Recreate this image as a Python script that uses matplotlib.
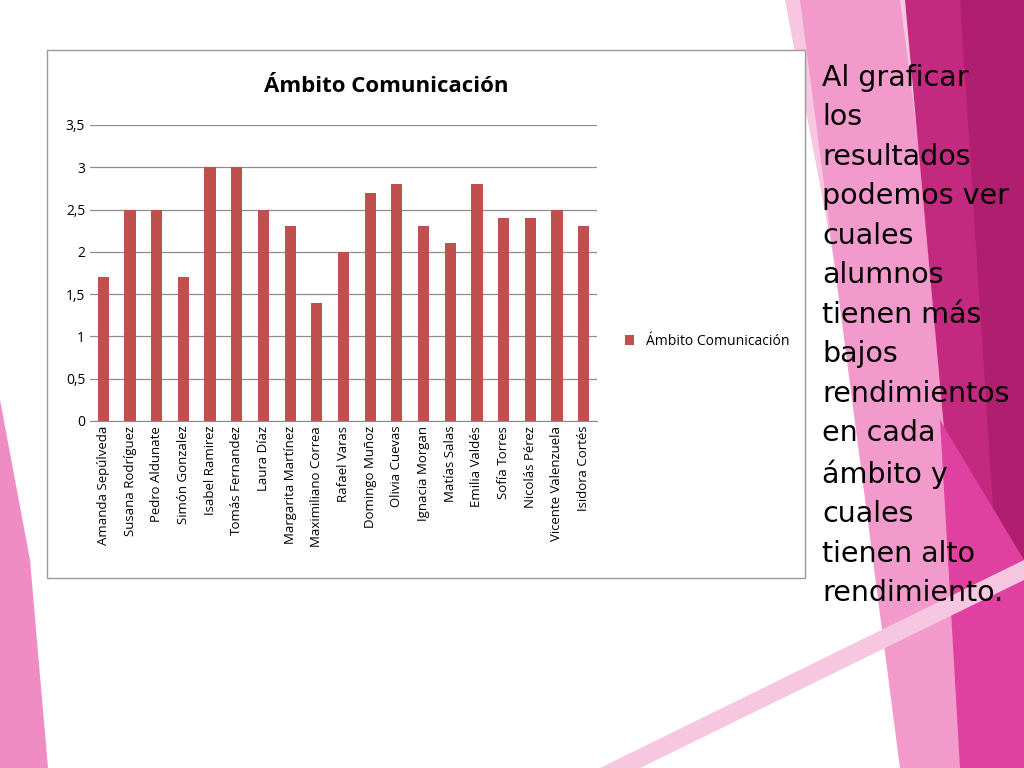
import matplotlib.pyplot as plt
from matplotlib.patches import Polygon, Rectangle

alumnos = ["Amanda Sepúlveda", "Susana Rodríguez", "Pedro Aldunate", "Simón Gonzalez",
           "Isabel Ramirez", "Tomás Fernandez", "Laura Díaz", "Margarita Martínez",
           "Maximiliano Correa", "Rafael Varas", "Domingo Muñoz", "Olivia Cuevas",
           "Ignacia Morgan", "Matías Salas", "Emilia Valdés", "Sofía Torres",
           "Nicolás Pérez", "Vicente Valenzuela", "Isidora Cortés"]
puntajes = [1.7, 2.5, 2.5, 1.7, 3.0, 3.0, 2.5, 2.3, 1.4, 2.0, 2.7, 2.8, 2.3, 2.1,
            2.8, 2.4, 2.4, 2.5, 2.3]
yticks = [0, 0.5, 1, 1.5, 2, 2.5, 3, 3.5]
yticklabels = ["0", "0,5", "1", "1,5", "2", "2,5", "3", "3,5"]

W, H = 1024, 768
fig = plt.figure(figsize=(10.24, 7.68), dpi=100)

def px(pts):
    return [(x / W, 1 - y / H) for x, y in pts]

# decorative pink shapes
bg = fig.add_axes([0, 0, 1, 1])
bg.set_xlim(0, 1); bg.set_ylim(0, 1); bg.axis("off")
shapes = [
    ([(785, 0), (1024, 0), (1024, 768), (930, 768)], "#f7c6e0"),
    ([(800, 0), (900, 0), (1000, 768), (900, 768)], "#f29acb"),
    ([(905, 0), (1024, 0), (1024, 768), (975, 768)], "#c2297f"),
    ([(960, 0), (1024, 0), (1024, 768), (1010, 768)], "#b01e70"),
    ([(940, 420), (1024, 560), (1024, 768), (960, 768)], "#e0409f"),
    ([(600, 768), (1024, 560), (1024, 580), (640, 768)], "#f7c6e0"),
    ([(0, 400), (30, 560), (48, 768), (0, 768)], "#f08cc4"),
]
for pts, col in shapes:
    bg.add_patch(Polygon(px(pts), closed=True, color=col, lw=0))

# chart frame
bg.add_patch(Rectangle((47 / W, 1 - 578 / H), (805 - 47) / W, (578 - 50) / H,
                       facecolor="white", edgecolor="#9a9a9a", lw=1))

ax = fig.add_axes([90 / W, 1 - 421 / H, (597 - 90) / W, (421 - 125) / H])
x = range(len(alumnos))
ax.bar(x, puntajes, width=0.42, color="#c0504d", label="Ámbito Comunicación")
ax.set_ylim(0, 3.5)
ax.set_xlim(-0.5, len(alumnos) - 0.5)
ax.set_yticks(yticks)
ax.set_yticklabels(yticklabels, fontsize=10, family="Open Sans")
ax.set_xticks(list(x))
ax.set_xticklabels(alumnos, rotation=90, fontsize=9.5, family="Open Sans")
ax.grid(axis="y", color="#8c8c8c", lw=0.9)
ax.set_axisbelow(True)
for s in ["top", "right", "left"]:
    ax.spines[s].set_visible(False)
ax.spines["bottom"].set_color("#8c8c8c")
ax.tick_params(length=0)
fig.text(386 / W, 1 - 87 / H, "Ámbito Comunicación", fontsize=16, fontweight="bold",
         family="Open Sans", ha="center", va="center")
ax.legend(loc="center left", bbox_to_anchor=(1.03, 0.27), frameon=False,
          prop={"family": "Open Sans", "size": 10}, handlelength=0.7)

fig.text(822 / W, 1 - 64 / H,
         "Al graficar\nlos\nresultados\npodemos ver\ncuales\nalumnos\ntienen más\nbajos\n"
         "rendimientos\nen cada\námbito y\ncuales\ntienen alto\nrendimiento.",
         fontsize=20.5, va="top", ha="left", linespacing=1.52, color="black")

fig.savefig("out.png", dpi=100)
